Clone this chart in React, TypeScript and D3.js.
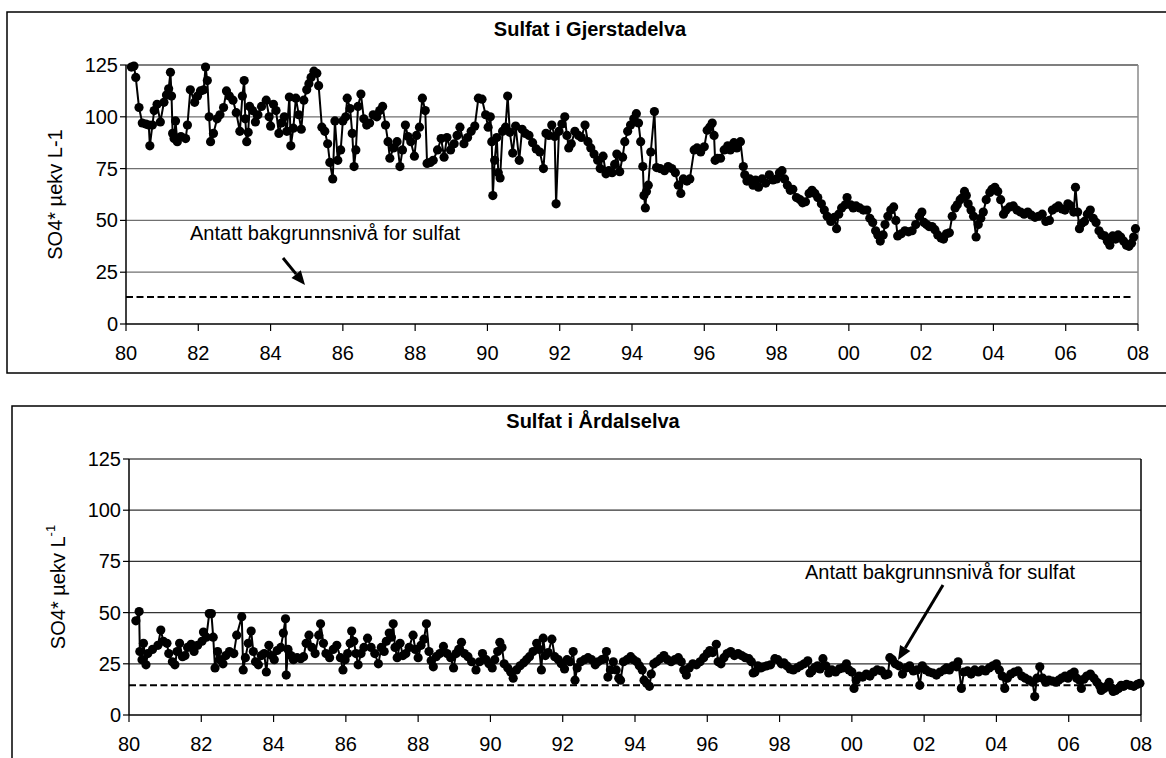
import React from "react";
import * as d3 from "d3";

type Pt = [number, number];

// Sulfat i Gjerstadelva (decimal year since 1900, SO4* µekv/L)
const gjer80s: Pt[] = [
  [80.15,124],[80.22,124.5],[80.27,119],[80.36,104.5],[80.45,97],[80.55,96.5],[80.63,96],[80.66,86],[80.73,96],[80.78,103],[80.86,106],[80.95,97.5],[81.05,107],
  [81.12,110.5],[81.18,113.5],[81.23,121.5],[81.26,110],[81.29,92],[81.33,89.5],[81.37,98],[81.42,88],[81.52,90.5],[81.65,89.5],[81.7,96],[81.78,113],[81.9,107],[81.98,110],
  [82.06,112.5],[82.15,113],[82.2,124],[82.25,117.5],[82.3,100],[82.34,88],[82.42,92],[82.52,99],[82.6,101],[82.7,104.5],[82.78,112.5],[82.86,110],[82.96,108],
  [83.05,102],[83.15,93],[83.22,110],[83.27,117.5],[83.3,99],[83.34,88],[83.38,92.5],[83.42,105],[83.5,103],[83.58,97.5],[83.65,101],[83.75,105],[83.88,108],[83.96,100],
  [84.0,95.5],[84.08,106],[84.15,103],[84.23,92],[84.3,97],[84.38,100],[84.45,93],[84.52,109.5],[84.56,86],[84.63,94.5],[84.7,109],[84.78,101],[84.85,94],
  [84.92,108],[85.0,113],[85.06,116],[85.12,119],[85.2,122],[85.28,121],[85.33,115],[85.42,95],[85.5,93],[85.58,87],[85.64,78],[85.72,70],[85.78,98],[85.86,79],[85.94,84],
  [86.0,98],[86.08,100],[86.12,109],[86.2,104],[86.26,92],[86.31,76],[86.36,84],[86.42,105],[86.5,111],[86.58,99],[86.66,96],[86.74,97],[86.84,101],[86.94,100],
  [87.02,103],[87.1,105],[87.18,96],[87.25,88],[87.3,80],[87.4,85],[87.5,88],[87.58,76],[87.65,84],[87.73,96],[87.8,90.5],[87.88,88],
  [87.98,81],[88.04,91],[88.12,95],[88.2,109],[88.28,103],[88.33,77.5],[88.42,78],[88.5,79],[88.62,84],[88.72,89.5],[88.8,80.5],[88.88,90],
  [88.98,84],[89.08,87],[89.16,91],[89.24,95],[89.35,87],[89.45,90],[89.55,93],[89.65,95.5],[89.75,109],[89.85,108.5],[89.95,101],
];
const gjer90s: Pt[] = [
  [90.02,95],[90.08,100],[90.12,88],[90.15,62],[90.2,79],[90.26,90],[90.3,73],[90.35,70.5],[90.42,93],[90.5,95],[90.56,110],[90.62,92.5],[90.7,82.5],[90.78,95.5],[90.88,79],
  [90.96,94],[91.05,92],[91.15,91],[91.25,87.5],[91.35,84.5],[91.45,83],[91.55,75],[91.62,92],[91.7,91],[91.78,96],[91.86,90.5],[91.9,58],[91.98,93],
  [92.06,96.5],[92.14,100],[92.2,91],[92.25,85],[92.32,87],[92.42,93],[92.52,91],[92.6,90],[92.7,96],[92.78,88],[92.86,85],[92.95,82],
  [93.05,79],[93.12,75],[93.2,81],[93.28,72.5],[93.36,74],[93.45,73],[93.52,77],[93.58,82],[93.66,73.5],[93.74,80.5],[93.8,88],[93.88,93],[93.96,96],
  [94.05,99],[94.12,101.5],[94.18,97],[94.24,88],[94.3,76],[94.33,62],[94.37,56],[94.4,64],[94.45,67],[94.52,83],[94.62,102.5],[94.68,75.5],[94.78,75],[94.9,74],
  [95.0,76],[95.1,75],[95.2,73],[95.28,67],[95.35,63],[95.42,70],[95.52,69],[95.6,70],[95.72,84],[95.8,85],[95.9,83],[96.0,85.5],
  [96.08,93.5],[96.15,95],[96.22,97],[96.27,91],[96.3,79],[96.36,80],[96.45,80],[96.55,84],[96.65,86],[96.72,84],[96.82,87.5],[96.9,85],[97.0,88],
  [97.08,76],[97.12,72],[97.18,69],[97.26,70],[97.35,67],[97.42,69.5],[97.5,66],[97.6,70],[97.7,68],[97.8,72],[97.9,69.5],
  [98.0,70],[98.08,73],[98.15,74],[98.22,70],[98.3,67],[98.38,64.5],[98.45,65],[98.55,61],[98.65,60],[98.72,58.5],[98.8,59],[98.9,63],[98.98,64.5],
  [99.06,63],[99.14,61],[99.24,58],[99.32,55],[99.4,52],[99.5,49.5],[99.6,51.5],[99.66,46],[99.72,53],[99.8,56],[99.9,57.5],[99.95,61],
];
const gjer00s: Pt[] = [
  [100.05,57.5],[100.12,56],[100.2,57],[100.3,56],[100.4,55],[100.5,55],[100.58,51],[100.66,49],[100.74,45],[100.8,43],[100.87,40],[100.95,43],[101.0,48],
  [101.08,52],[101.16,55],[101.24,56.5],[101.3,50],[101.35,42.5],[101.45,43.5],[101.55,45],[101.65,44.5],[101.75,45],[101.85,48],[101.95,52],[102.02,54],
  [102.08,49],[102.15,48],[102.22,47],[102.3,47],[102.38,45.5],[102.46,43],[102.55,41.5],[102.62,41],[102.7,43.5],[102.78,44],[102.86,52],[102.94,56],[103.0,57.5],
  [103.08,60],[103.15,61],[103.2,64],[103.25,62],[103.3,58],[103.38,55],[103.45,52],[103.52,42],[103.58,48],[103.65,51],[103.72,54],[103.8,60],[103.9,63.5],[103.96,65],
  [104.04,66],[104.12,64],[104.2,60],[104.28,53],[104.35,55],[104.45,56.5],[104.55,57],[104.65,55],[104.75,54],[104.85,53],[104.95,54],
  [105.05,52.5],[105.15,51.5],[105.25,52],[105.35,53],[105.45,49.5],[105.55,50],[105.63,55],[105.72,56],[105.8,57],[105.9,55.5],[105.98,55],
  [106.06,58],[106.14,57],[106.22,54],[106.27,66],[106.33,54],[106.38,46],[106.44,48.5],[106.52,49.5],[106.6,53],[106.68,55],[106.76,51],[106.84,49],[106.92,45],
  [107.0,43],[107.08,42.5],[107.15,40],[107.22,38],[107.3,42.5],[107.38,41],[107.45,43],[107.52,42],[107.6,40],[107.68,38],[107.75,37.5],[107.82,39],[107.88,42],[107.93,46],
];

// Sulfat i Årdalselva
const ardal80s: Pt[] = [
  [80.19,46],[80.28,50.5],[80.3,31],[80.36,27],[80.4,35],[80.47,24.5],[80.52,30],[80.65,32],[80.8,34],[80.88,41.5],[80.95,36],
  [81.05,35],[81.1,30],[81.2,26],[81.27,24.5],[81.33,31],[81.4,35],[81.48,28.5],[81.55,29],[81.62,33],[81.72,34.5],[81.8,31],[81.9,34],
  [82.02,36],[82.06,40.5],[82.14,38],[82.22,49.5],[82.28,49.5],[82.33,38],[82.38,23],[82.45,31],[82.52,27],[82.6,25],[82.68,29],[82.78,31],[82.9,30],
  [82.98,39],[83.12,48],[83.16,22],[83.22,28],[83.3,35],[83.38,41],[83.44,31],[83.5,26],[83.58,24.5],[83.66,29],[83.74,30],[83.8,21],[83.87,34],[83.95,29],
  [84.02,27],[84.1,31.5],[84.2,33],[84.27,40],[84.33,47],[84.35,19.5],[84.4,32],[84.48,29],[84.55,27],[84.65,28],[84.75,27.5],[84.83,28.5],[84.9,35],
  [84.98,39],[85.06,33],[85.15,30],[85.25,39],[85.3,44.5],[85.38,35],[85.45,30],[85.55,28],[85.65,32],[85.75,34],[85.85,28],[85.92,22],[85.98,27],
  [86.05,30],[86.12,35],[86.16,41],[86.22,36],[86.28,30],[86.34,24.5],[86.42,30],[86.5,33],[86.6,37.5],[86.7,33],[86.8,30],[86.9,25],
  [86.98,33],[87.06,31],[87.12,36],[87.2,40],[87.26,38],[87.31,44.5],[87.36,33],[87.42,28],[87.5,35],[87.58,29],[87.66,30],[87.75,33],[87.86,39],[87.92,32],
  [88.0,28],[88.08,34],[88.16,37],[88.23,44.5],[88.3,31],[88.36,26.5],[88.42,23.5],[88.5,28.5],[88.6,30],[88.7,33.5],[88.8,30],[88.9,28],[88.98,23],
  [89.05,30],[89.12,32],[89.2,35.5],[89.28,30],[89.38,28.5],[89.48,26],[89.6,22],[89.7,26],[89.78,30],[89.88,27],
];
const ardal90s: Pt[] = [
  [89.96,25],[90.05,23],[90.12,27],[90.2,31],[90.26,35.5],[90.32,33],[90.38,25],[90.48,23],[90.56,21],[90.63,18],[90.72,22],[90.82,24],[90.92,25.5],
  [91.0,27],[91.08,28.5],[91.18,31],[91.28,35],[91.35,32],[91.41,22],[91.46,37.5],[91.52,29],[91.6,30.5],[91.7,37],[91.78,28.5],[91.88,27],[91.96,25],
  [92.05,22.5],[92.12,27],[92.2,26],[92.29,31],[92.34,17],[92.4,23],[92.5,26],[92.6,27],[92.7,28],[92.8,27],[92.9,24.5],[92.98,26],
  [93.08,27],[93.16,27.5],[93.21,31],[93.25,18.5],[93.32,22],[93.4,26],[93.48,22],[93.55,18],[93.6,17],[93.68,26],[93.78,27],[93.88,28.5],[93.96,27],
  [94.05,26],[94.12,24],[94.2,22],[94.25,17],[94.32,15.5],[94.4,14],[94.45,20],[94.52,25],[94.6,26],[94.7,27.5],[94.8,29],[94.9,27],
  [95.0,26],[95.1,27],[95.2,28],[95.28,26],[95.35,22],[95.42,19.5],[95.5,23],[95.6,25],[95.7,24.5],[95.8,26],[95.9,28],
  [96.0,30],[96.07,31.5],[96.15,30.5],[96.25,34.5],[96.3,26],[96.38,25],[96.46,28],[96.55,30],[96.65,31],[96.75,29],[96.85,30],[96.95,29],
  [97.05,28],[97.15,27.5],[97.22,26],[97.27,20.5],[97.32,21],[97.4,24],[97.48,23],[97.55,23.5],[97.65,24],[97.75,24.5],[97.87,27.5],[97.95,27],
  [98.05,25],[98.12,25.5],[98.2,24],[98.29,22.5],[98.38,22],[98.48,23],[98.58,24],[98.68,25],[98.78,26.5],[98.84,20.5],[98.9,21.5],[98.96,23],
  [99.05,24],[99.12,22.5],[99.2,27.5],[99.28,24],[99.36,20.5],[99.45,22],[99.55,21],[99.65,22.5],[99.75,23],[99.85,25],[99.92,22],
];
const ardal00s: Pt[] = [
  [100.0,21],[100.06,13],[100.12,17],[100.2,19],[100.3,18.5],[100.4,20],[100.5,19],[100.6,21],[100.7,22],[100.82,21.5],[100.92,19.5],
  [101.0,20],[101.05,28],[101.12,27],[101.2,25],[101.3,24],[101.4,20],[101.5,23],[101.6,24],[101.7,21.5],[101.8,22],[101.88,14.5],[101.95,24],
  [102.05,22],[102.14,21],[102.24,20.5],[102.34,19.5],[102.44,21],[102.55,22],[102.62,23],[102.7,22],[102.8,24],[102.9,23.5],[102.94,26],[103.03,13],
  [103.1,21],[103.2,21.5],[103.3,20],[103.4,22],[103.5,21],[103.6,22],[103.7,21.5],[103.8,23],[103.9,24],[104.0,25],
  [104.08,22],[104.16,19],[104.23,13],[104.3,18],[104.4,20],[104.5,21],[104.6,21.5],[104.7,19],[104.8,18],[104.9,17],[105.0,16],[105.06,9],[105.12,18],[105.2,23.5],
  [105.28,18],[105.36,16],[105.45,17],[105.55,16.5],[105.65,16],[105.72,17],[105.8,18],[105.9,19],[105.98,18],
  [106.06,20],[106.15,21],[106.22,18],[106.3,17],[106.35,13],[106.42,17.5],[106.5,19],[106.6,20],[106.7,18],[106.78,16],[106.86,14],[106.9,12],
  [106.98,13],[107.05,14],[107.12,16],[107.2,13],[107.23,11.5],[107.3,12],[107.38,13],[107.45,14.5],[107.52,14],[107.6,15],[107.7,14.5],[107.8,14],[107.9,15],[107.97,15.5],
];

const yTicks = [0, 25, 50, 75, 100, 125];
const xTickYears = [80, 82, 84, 86, 88, 90, 92, 94, 96, 98, 100, 102, 104, 106, 108];
const xTickLabels = ["80", "82", "84", "86", "88", "90", "92", "94", "96", "98", "00", "02", "04", "06", "08"];
const titles = ["Sulfat i Gjerstadelva", "Sulfat i Årdalselva"];
const backgroundLevels = [13, 14.5];
const annotationText = "Antatt bakgrunnsnivå for sulfat";

const FONT = "'Liberation Sans', Arial, Helvetica, sans-serif";

type Layout = {
  box: { x: number; y: number; w: number; h: number };
  left: number; right: number; top: number; bottom: number;
  titleX: number; titleY: number;
  yLabelX: number;
  gridColor: string; borderColor: string;
  dashEnd: number;
  textX: number; textY: number; textAnchor: string;
  arrow: [number, number, number, number];
  superscript: boolean;
};

const layouts: Layout[] = [
  {
    box: { x: 7, y: 12, w: 1180, h: 361 },
    left: 126, right: 1138, top: 65, bottom: 324,
    titleX: 590, titleY: 29, yLabelX: 55,
    gridColor: "#707070", borderColor: "#8a8a8a",
    dashEnd: 107.8,
    textX: 190, textY: 233, textAnchor: "start",
    arrow: [283, 258, 305, 285],
    superscript: false,
  },
  {
    box: { x: 12, y: 406, w: 1180, h: 400 },
    left: 129, right: 1141, top: 459, bottom: 715,
    titleX: 593, titleY: 421, yLabelX: 58,
    gridColor: "#333333", borderColor: "#000000",
    dashEnd: 108,
    textX: 940, textY: 572, textAnchor: "middle",
    arrow: [943, 585, 898, 660],
    superscript: true,
  },
];

function Panel({ data, idx }: { data: Pt[]; idx: number }) {
  const L = layouts[idx];
  const x = d3.scaleLinear().domain([80, 108]).range([L.left, L.right]);
  const y = d3.scaleLinear().domain([0, 125]).range([L.bottom, L.top]);
  const line = d3.line<Pt>().x((d) => x(d[0])).y((d) => y(d[1]));
  const bg = backgroundLevels[idx];
  const [ax1, ay1, ax2, ay2] = L.arrow;
  const ang = Math.atan2(ay2 - ay1, ax2 - ax1);
  const hl = 14, hw = 6;
  const bx = ax2 - hl * Math.cos(ang), by = ay2 - hl * Math.sin(ang);
  const head = `M${ax2},${ay2} L${bx + hw * Math.sin(ang)},${by - hw * Math.cos(ang)} L${bx - hw * Math.sin(ang)},${by + hw * Math.cos(ang)} Z`;
  const midY = (L.top + L.bottom) / 2;
  return (
    <g fontFamily={FONT}>
      <rect x={L.box.x} y={L.box.y} width={L.box.w} height={L.box.h} fill="white" stroke="#000" strokeWidth={1.5} />
      <text x={L.titleX} y={L.titleY} textAnchor="middle" dominantBaseline="central" fontWeight="bold" fontSize={20}>
        {titles[idx]}
      </text>
      {/* gridlines */}
      {yTicks.filter((t) => t > 0).map((t) => (
        <line key={t} x1={L.left} x2={L.right} y1={y(t)} y2={y(t)} stroke={t === 125 ? "#000" : L.gridColor} strokeWidth={1.2} />
      ))}
      <line x1={L.right} x2={L.right} y1={L.top} y2={L.bottom} stroke={L.borderColor} strokeWidth={1.5} />
      {/* axes */}
      <line x1={L.left} x2={L.left} y1={L.top} y2={L.bottom} stroke="#000" strokeWidth={1.5} />
      <line x1={L.left} x2={L.right} y1={L.bottom} y2={L.bottom} stroke="#000" strokeWidth={1.5} />
      {yTicks.map((t) => (
        <g key={"y" + t}>
          <line x1={L.left - 6} x2={L.left} y1={y(t)} y2={y(t)} stroke="#000" strokeWidth={1.2} />
          <text x={L.left - 8} y={y(t)} textAnchor="end" dominantBaseline="central" fontSize={20}>{t}</text>
        </g>
      ))}
      {xTickYears.map((t, i) => (
        <g key={"x" + t}>
          <line x1={x(t)} x2={x(t)} y1={L.bottom} y2={L.bottom + 7} stroke="#000" strokeWidth={1.2} />
          <text x={x(t)} y={L.bottom + 29} textAnchor="middle" dominantBaseline="central" fontSize={20}>{xTickLabels[i]}</text>
        </g>
      ))}
      {/* y label */}
      <text transform={`translate(${L.yLabelX},${midY}) rotate(-90)`} textAnchor="middle" dominantBaseline="central" fontSize={20}>
        {L.superscript ? (
          <>
            SO4* µekv L<tspan dy={-8} fontSize={13}>-1</tspan>
          </>
        ) : (
          "SO4* µekv L-1"
        )}
      </text>
      {/* background level */}
      <line x1={x(80)} x2={x(L.dashEnd)} y1={y(bg)} y2={y(bg)} stroke="#000" strokeWidth={2} strokeDasharray="7,3.5" />
      {/* annotation */}
      <text x={L.textX} y={L.textY} textAnchor={L.textAnchor as any} dominantBaseline="central" fontSize={20}>{annotationText}</text>
      <line x1={ax1} y1={ay1} x2={bx} y2={by} stroke="#000" strokeWidth={3} />
      <path d={head} fill="#000" />
      {/* series */}
      <path d={line(data) || ""} fill="none" stroke="#000" strokeWidth={2} />
      {data.map((d, i) => (
        <circle key={i} cx={x(d[0])} cy={y(d[1])} r={4.6} fill="#000" />
      ))}
    </g>
  );
}

export default function App() {
  const gjer = [...gjer80s, ...gjer90s, ...gjer00s];
  const ardal = [...ardal80s, ...ardal90s, ...ardal00s];
  return (
    <svg width={1166} height={758} style={{ position: "absolute", left: 0, top: 0, background: "white" }}>
      <rect x={0} y={0} width={1166} height={758} fill="white" />
      <Panel data={gjer} idx={0} />
      <Panel data={ardal} idx={1} />
    </svg>
  );
}
